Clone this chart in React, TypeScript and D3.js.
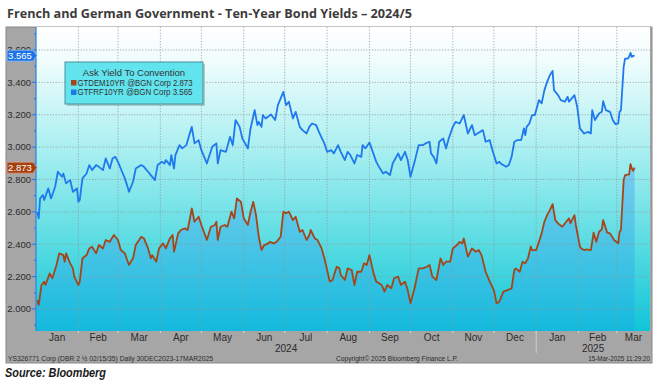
import React from "react";
import * as d3 from "d3";

const titleText = "French and German Government - Ten-Year Bond Yields – 2024/5";
const sourceText = "Source: Bloomberg";
const legendTitle = "Ask Yield To Convention";
const legendNames = ["GTDEM10YR @BGN Corp 2.873", "GTFRF10YR @BGN Corp  3.565"];
const lastValues = [2.873, 3.565];
const yTicks = [2.0, 2.2, 2.4, 2.6, 2.8, 3.0, 3.2, 3.4, 3.6];
const yMinorTicks = [1.9, 2.1, 2.3, 2.5, 2.7, 2.9, 3.1, 3.3, 3.5, 3.7];
const monthLabels = ["Jan", "Feb", "Mar", "Apr", "May", "Jun", "Jul", "Aug", "Sep", "Oct", "Nov", "Dec", "Jan", "Feb", "Mar"];
const yearLabels = ["2024", "2025"];
const footerLeft = "YS326771 Corp (DBR 2 ½ 02/15/35)  Daily 30DEC2023-17MAR2025";
const footerMid = "Copyright© 2025 Bloomberg Finance L.P.";
const footerRight = "15-Mar-2025 11:29:20";

const frDates = [
  "2024-01-02","2024-01-03","2024-01-04","2024-01-06","2024-01-07","2024-01-10","2024-01-12","2024-01-15","2024-01-17","2024-01-20",
  "2024-01-21","2024-01-23","2024-01-26","2024-01-28","2024-01-31","2024-02-01","2024-02-02","2024-02-04","2024-02-07","2024-02-09",
  "2024-02-11","2024-02-14","2024-02-16","2024-02-19","2024-02-21","2024-02-24","2024-02-26","2024-02-28","2024-03-01","2024-03-03",
  "2024-03-06","2024-03-08","2024-03-09","2024-03-12","2024-03-14","2024-03-18","2024-03-20","2024-03-23","2024-03-25","2024-03-28",
  "2024-03-30","2024-04-02","2024-04-04","2024-04-05","2024-04-08","2024-04-09","2024-04-11","2024-04-12","2024-04-15","2024-04-17",
  "2024-04-20","2024-04-22","2024-04-24","2024-04-26","2024-04-29","2024-05-01","2024-05-05","2024-05-07","2024-05-09","2024-05-12",
  "2024-05-13","2024-05-15","2024-05-19","2024-05-22","2024-05-24","2024-05-26","2024-05-29","2024-05-31","2024-06-04","2024-06-06",
  "2024-06-09","2024-06-11","2024-06-12","2024-06-14","2024-06-15","2024-06-17","2024-06-21","2024-06-24","2024-06-26","2024-06-30",
  "2024-07-02","2024-07-04","2024-07-07","2024-07-09","2024-07-12","2024-07-14","2024-07-17","2024-07-19","2024-07-21","2024-07-24",
  "2024-07-26","2024-07-30","2024-08-01","2024-08-04","2024-08-06","2024-08-09","2024-08-11","2024-08-14","2024-08-16","2024-08-18",
  "2024-08-21","2024-08-23","2024-08-26","2024-08-27","2024-08-29","2024-09-01","2024-09-03","2024-09-06","2024-09-08","2024-09-11",
  "2024-09-13","2024-09-16","2024-09-18","2024-09-22","2024-09-24","2024-09-27","2024-09-29","2024-10-01","2024-10-04","2024-10-07",
  "2024-10-10","2024-10-12","2024-10-15","2024-10-16","2024-10-18","2024-10-20","2024-10-22","2024-10-25","2024-10-27","2024-10-29",
  "2024-11-01","2024-11-03","2024-11-06","2024-11-09","2024-11-12","2024-11-15","2024-11-17","2024-11-19","2024-11-23","2024-11-25",
  "2024-11-28","2024-11-30","2024-12-03","2024-12-05","2024-12-06","2024-12-10","2024-12-12","2024-12-14","2024-12-16","2024-12-18",
  "2024-12-21","2024-12-23","2024-12-24","2024-12-25","2024-12-27","2024-12-29","2024-12-31","2025-01-03","2025-01-05","2025-01-07",
  "2025-01-09","2025-01-11","2025-01-13","2025-01-14","2025-01-17","2025-01-19","2025-01-22","2025-01-24","2025-01-25","2025-01-27",
  "2025-01-29","2025-01-31","2025-02-02","2025-02-03","2025-02-05","2025-02-08","2025-02-10","2025-02-11","2025-02-13","2025-02-16",
  "2025-02-18","2025-02-19","2025-02-21","2025-02-24","2025-02-26","2025-02-28","2025-03-02","2025-03-03","2025-03-04","2025-03-06",
  "2025-03-07","2025-03-09","2025-03-10","2025-03-11","2025-03-12","2025-03-13","2025-03-14"
];
const frValues = [
  2.600,2.560,2.683,2.704,2.673,2.745,2.683,2.755,2.848,2.817,
  2.837,2.776,2.796,2.724,2.745,2.662,2.673,2.807,2.837,2.889,
  2.858,2.889,2.878,2.858,2.930,2.868,2.930,2.940,2.909,2.868,
  2.807,2.755,2.724,2.786,2.868,2.889,2.878,2.848,2.827,2.796,
  2.889,2.909,2.899,2.920,2.889,2.951,2.868,2.951,3.012,2.992,
  3.012,3.070,3.125,3.023,3.043,2.981,2.899,2.951,3.002,3.023,
  2.899,2.981,2.971,3.064,3.012,3.167,3.125,3.053,2.992,3.115,
  3.228,3.136,3.156,3.125,3.198,3.177,3.202,3.167,3.259,3.341,
  3.259,3.280,3.177,3.218,3.125,3.105,3.084,3.125,3.146,3.136,
  3.094,3.023,2.971,2.981,2.961,3.012,2.971,2.920,2.971,2.951,
  2.899,2.951,2.940,3.012,2.992,3.029,2.981,2.909,2.878,2.837,
  2.848,2.827,2.899,2.961,2.920,2.971,2.920,2.817,2.909,3.012,
  3.012,3.023,3.033,2.961,2.940,2.899,3.033,3.053,2.992,3.053,
  3.125,3.156,3.146,3.198,3.084,3.136,3.074,3.084,3.105,3.033,
  3.043,2.981,2.899,2.909,2.899,2.878,2.889,2.940,3.033,3.043,
  3.043,3.115,3.074,3.125,3.146,3.198,3.198,3.290,3.270,3.352,
  3.403,3.444,3.471,3.352,3.321,3.290,3.280,3.311,3.280,3.301,
  3.321,3.249,3.115,3.105,3.084,3.094,3.084,3.228,3.167,3.208,
  3.218,3.284,3.228,3.218,3.167,3.142,3.146,3.218,3.228,3.496,
  3.547,3.547,3.557,3.582,3.557,3.564,3.565
];

const deDates = [
  "2024-01-02","2024-01-03","2024-01-05","2024-01-07","2024-01-08","2024-01-11","2024-01-13","2024-01-16","2024-01-18","2024-01-21",
  "2024-01-22","2024-01-23","2024-01-26","2024-01-28","2024-01-29","2024-02-01","2024-02-02","2024-02-04","2024-02-07","2024-02-09",
  "2024-02-11","2024-02-14","2024-02-16","2024-02-19","2024-02-21","2024-02-24","2024-02-27","2024-03-01","2024-03-03","2024-03-06",
  "2024-03-09","2024-03-12","2024-03-14","2024-03-18","2024-03-20","2024-03-23","2024-03-25","2024-03-26","2024-03-29","2024-03-31",
  "2024-04-03","2024-04-05","2024-04-08","2024-04-10","2024-04-11","2024-04-14","2024-04-16","2024-04-19","2024-04-21","2024-04-24",
  "2024-04-26","2024-04-29","2024-05-01","2024-05-05","2024-05-08","2024-05-11","2024-05-12","2024-05-13","2024-05-15","2024-05-18",
  "2024-05-20","2024-05-23","2024-05-25","2024-05-27","2024-05-30","2024-06-01","2024-06-04","2024-06-06","2024-06-08","2024-06-10",
  "2024-06-12","2024-06-14","2024-06-16","2024-06-19","2024-06-20","2024-06-23","2024-06-25","2024-06-28","2024-06-30","2024-07-02",
  "2024-07-04","2024-07-07","2024-07-09","2024-07-12","2024-07-14","2024-07-17","2024-07-19","2024-07-20","2024-07-23","2024-07-25",
  "2024-07-28","2024-07-30","2024-08-03","2024-08-05","2024-08-08","2024-08-10","2024-08-11","2024-08-14","2024-08-16","2024-08-19",
  "2024-08-21","2024-08-23","2024-08-26","2024-08-28","2024-08-30","2024-09-01","2024-09-04","2024-09-06","2024-09-10","2024-09-12",
  "2024-09-14","2024-09-17","2024-09-19","2024-09-22","2024-09-24","2024-09-27","2024-09-29","2024-10-01","2024-10-04","2024-10-07",
  "2024-10-10","2024-10-13","2024-10-15","2024-10-17","2024-10-20","2024-10-23","2024-10-25","2024-10-27","2024-10-30","2024-11-01",
  "2024-11-04","2024-11-06","2024-11-08","2024-11-09","2024-11-12","2024-11-15","2024-11-18","2024-11-20","2024-11-22","2024-11-25",
  "2024-11-28","2024-12-01","2024-12-03","2024-12-05","2024-12-06","2024-12-08","2024-12-11","2024-12-14","2024-12-16","2024-12-17",
  "2024-12-20","2024-12-22","2024-12-24","2024-12-26","2024-12-28","2024-12-29","2025-01-01","2025-01-03","2025-01-05","2025-01-07",
  "2025-01-09","2025-01-11","2025-01-13","2025-01-15","2025-01-17","2025-01-20","2025-01-23","2025-01-25","2025-01-26","2025-01-29",
  "2025-01-30","2025-02-02","2025-02-03","2025-02-05","2025-02-07","2025-02-10","2025-02-12","2025-02-14","2025-02-16","2025-02-18",
  "2025-02-19","2025-02-22","2025-02-24","2025-02-27","2025-03-02","2025-03-03","2025-03-04","2025-03-06","2025-03-07","2025-03-10",
  "2025-03-11","2025-03-12","2025-03-13","2025-03-14"
];
const deValues = [
  2.056,2.025,2.148,2.169,2.148,2.220,2.190,2.272,2.344,2.333,
  2.292,2.344,2.282,2.251,2.200,2.148,2.169,2.313,2.333,2.374,
  2.385,2.344,2.395,2.374,2.426,2.415,2.457,2.426,2.364,2.344,
  2.272,2.313,2.395,2.446,2.436,2.374,2.313,2.333,2.292,2.374,
  2.405,2.374,2.436,2.457,2.354,2.467,2.488,2.498,2.488,2.622,
  2.539,2.570,2.519,2.426,2.508,2.519,2.539,2.426,2.508,2.519,
  2.508,2.601,2.560,2.683,2.662,2.560,2.519,2.601,2.662,2.580,
  2.446,2.364,2.395,2.405,2.415,2.405,2.415,2.446,2.601,2.591,
  2.601,2.549,2.570,2.477,2.488,2.426,2.457,2.488,2.436,2.426,
  2.374,2.313,2.169,2.179,2.261,2.251,2.210,2.179,2.251,2.241,
  2.148,2.230,2.230,2.282,2.272,2.333,2.220,2.169,2.148,2.107,
  2.148,2.128,2.190,2.200,2.148,2.169,2.117,2.035,2.128,2.251,
  2.251,2.261,2.272,2.200,2.179,2.313,2.272,2.292,2.292,2.374,
  2.395,2.415,2.405,2.436,2.323,2.374,2.354,2.364,2.333,2.230,
  2.169,2.117,2.035,2.045,2.066,2.107,2.117,2.127,2.241,2.251,
  2.230,2.292,2.282,2.313,2.385,2.364,2.364,2.415,2.467,2.539,
  2.580,2.611,2.648,2.549,2.529,2.508,2.539,2.560,2.529,2.580,
  2.519,2.385,2.374,2.364,2.368,2.364,2.471,2.415,2.477,2.492,
  2.549,2.471,2.467,2.426,2.405,2.477,2.488,2.796,2.827,2.831,
  2.895,2.868,2.854,2.873
];

const FR_COLOR = "#1f78ec";
const DE_COLOR = "#a4461a";
const AXIS_GRAY = "#a6a6a6";

type Pt = { date: Date; v: number };

export default function App() {
  const W = 658, H = 382;
  const frame = { x0: 6, x1: 652, y0: 27, y1: 363 };
  const plot = { left: 36, right: 650, top: 27, bottom: 331 };
  const parse = d3.utcParse("%Y-%m-%d");
  const start = parse("2024-01-01") as Date;
  const end = parse("2025-03-26") as Date;

  const x = d3.scaleUtc().domain([start, end]).range([36, 651]);
  const y = d3.scaleLinear().domain([1.864, 3.742]).range([plot.bottom, plot.top]);

  const fr: Pt[] = frDates.map((d, i) => ({ date: parse(d) as Date, v: frValues[i] }));
  const de: Pt[] = deDates.map((d, i) => ({ date: parse(d) as Date, v: deValues[i] }));

  const line = d3.line<Pt>().x((d) => x(d.date)).y((d) => y(d.v));
  const area = d3.area<Pt>().x((d) => x(d.date)).y0(plot.bottom).y1((d) => y(d.v));

  const months = d3.utcMonth.range(start, parse("2025-04-01") as Date);
  const yearBreak = parse("2025-01-01") as Date;
  const xBreak = x(yearBreak);
  const yearCenters = [(plot.left + xBreak) / 2, (xBreak + plot.right) / 2];

  const fmt = d3.format(".3f");
  const font = "'Liberation Sans', Arial, sans-serif";

  const tag = (v: number, color: string, border: string, label: string) => {
    const cy = y(v);
    const p = `M7,${cy - 5.5} H33 L37,${cy} L33,${cy + 5.5} H7 Z`;
    return (
      <g>
        <path d={p} fill={color} stroke={border} strokeWidth={0.8} />
        <text x={20} y={cy + 3.3} fill="#ffffff" fontSize={9.5} textAnchor="middle" fontFamily={font}>
          {label}
        </text>
      </g>
    );
  };

  return (
    <svg width={W} height={H} style={{ position: "absolute", left: 0, top: 0, background: "#ffffff" }}>
      <defs>
        <linearGradient id="bg" x1="0" y1="0" x2="0" y2="1">
          <stop offset="0" stopColor="#ffffff" />
          <stop offset="0.12" stopColor="#eefcfc" />
          <stop offset="0.4" stopColor="#aaeff1" />
          <stop offset="0.7" stopColor="#5cdde3" />
          <stop offset="1" stopColor="#10c5d8" />
        </linearGradient>
        <linearGradient id="areaFill" x1="0" y1="0" x2="0" y2="1">
          <stop offset="0" stopColor="#4a9cf2" stopOpacity={0.42} />
          <stop offset="1" stopColor="#1a9ee8" stopOpacity={0.3} />
        </linearGradient>
        <clipPath id="plotClip">
          <rect x={plot.left} y={plot.top} width={plot.right - plot.left} height={plot.bottom - plot.top} />
        </clipPath>
      </defs>

      <text x={7} y={18} fontFamily="'Open Sans', sans-serif" fontWeight={700} fontSize={13} fill="#3c3c3c"
        textLength={405} lengthAdjust="spacingAndGlyphs">
        {titleText}
      </text>

      {/* frame */}
      <rect x={frame.x0} y={frame.y0} width={frame.x1 - frame.x0} height={frame.y1 - frame.y0} fill={AXIS_GRAY} stroke="#8a8a8a" strokeWidth={1} />
      <rect x={plot.left} y={plot.top} width={plot.right - plot.left} height={plot.bottom - plot.top} fill="url(#bg)" />

      <g clipPath="url(#plotClip)">
        <path d={area(de) || ""} fill="url(#areaFill)" />
        {yTicks.map((t) => (
          <line key={"gy" + t} x1={plot.left} x2={plot.right} y1={y(t)} y2={y(t)} stroke="#8c9c9e" strokeWidth={0.8} strokeDasharray="1.2,1.6" />
        ))}
        {months.slice(1).map((m, i) => (
          <line key={"gx" + i} x1={x(m)} x2={x(m)} y1={plot.top} y2={plot.bottom} stroke="#8c9c9e" strokeWidth={0.8} strokeDasharray="1.2,1.6" />
        ))}
        <path d={line(fr) || ""} fill="none" stroke={FR_COLOR} strokeWidth={1.8} strokeLinejoin="round" />
        <path d={line(de) || ""} fill="none" stroke={DE_COLOR} strokeWidth={1.8} strokeLinejoin="round" />
      </g>

      {/* left axis */}
      <line x1={plot.left} x2={plot.left} y1={plot.top} y2={plot.bottom} stroke="#2a80e8" strokeWidth={1.2} />
      {yTicks.map((t) => (
        <g key={"yt" + t}>
          <line x1={plot.left - 4} x2={plot.left} y1={y(t)} y2={y(t)} stroke="#2a80e8" strokeWidth={1.2} />
          <text x={plot.left - 5} y={y(t) + 3.3} fontSize={9.5} fill="#2b2b2b" textAnchor="end" fontFamily={font}>
            {fmt(t)}
          </text>
        </g>
      ))}
      {yMinorTicks.map((t) => (
        <line key={"ym" + t} x1={plot.left - 2} x2={plot.left} y1={y(t)} y2={y(t)} stroke="#2a80e8" strokeWidth={1.2} />
      ))}

      {/* bottom axis */}
      {months.slice(1).map((m, i) => (
        <line key={"xt" + i} x1={x(m)} x2={x(m)} y1={plot.bottom} y2={plot.bottom + 2} stroke="#d8d8d8" strokeWidth={1} />
      ))}
      {months.map((m, i) => {
        const next = d3.utcMonth.offset(m, 1);
        const cx = (x(m) + Math.min(x(next), plot.right)) / 2;
        return (
          <text key={"ml" + i} x={cx} y={341} fontSize={10} fill="#2b2b2b" textAnchor="middle" fontFamily={font}>
            {monthLabels[i]}
          </text>
        );
      })}
      <line x1={xBreak} x2={xBreak} y1={plot.bottom + 1} y2={353} stroke="#cfcfcf" strokeWidth={1} />
      {yearLabels.map((yl, i) => (
        <text key={yl} x={yearCenters[i]} y={351.5} fontSize={10} fill="#2b2b2b" textAnchor="middle" fontFamily={font}>
          {yl}
        </text>
      ))}

      {/* footer */}
      <text x={8} y={361} fontSize={6.3} fill="#2b2b2b" fontFamily={font} textLength={205} lengthAdjust="spacingAndGlyphs">{footerLeft}</text>
      <text x={336} y={361} fontSize={6.3} fill="#2b2b2b" fontFamily={font} textLength={122} lengthAdjust="spacingAndGlyphs">{footerMid}</text>
      <text x={650} y={361} fontSize={6.3} fill="#2b2b2b" fontFamily={font} textAnchor="end">{footerRight}</text>

      {/* value tags */}
      {tag(lastValues[1], "#1b73e6", "#9cc4ff", fmt(lastValues[1]))}
      {tag(lastValues[0], "#a3400e", "#e0a080", fmt(lastValues[0]))}

      {/* legend */}
      <rect x={67} y={64} width={138} height={42} fill="#7aa6aa" opacity={0.5} />
      <rect x={65} y={62} width={138} height={42} fill="#62e4ee" stroke="#4f8f98" strokeWidth={1} />
      <text x={134} y={75.5} fontSize={9.5} fill="#333" textAnchor="middle" fontFamily={font}>{legendTitle}</text>
      <rect x={71} y={80} width={5.5} height={5.5} fill={DE_COLOR} />
      <text x={77.5} y={85.5} fontSize={9.5} fill="#333" fontFamily={font} textLength={115} lengthAdjust="spacingAndGlyphs">{legendNames[0]}</text>
      <rect x={71} y={89.5} width={5.5} height={5.5} fill={FR_COLOR} />
      <text x={77.5} y={95} fontSize={9.5} fill="#333" fontFamily={font} textLength={115} lengthAdjust="spacingAndGlyphs">{legendNames[1]}</text>

      <text x={5} y={377} fontSize={12} fontWeight={700} fontStyle="italic" fill="#1a1a1a" fontFamily={font}
        textLength={101} lengthAdjust="spacingAndGlyphs">
        {sourceText}
      </text>
    </svg>
  );
}
